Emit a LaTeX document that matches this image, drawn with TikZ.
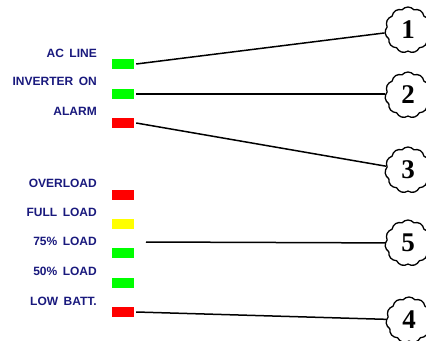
\documentclass[tikz,border=0pt]{standalone}
\usepackage{fontspec}
\setmainfont{Liberation Serif}
\setsansfont{Liberation Sans}
\usetikzlibrary{shapes.symbols}
\definecolor{pNavy}{RGB}{25,25,125}
\definecolor{pGreen}{RGB}{0,255,0}
\definecolor{pRed}{RGB}{255,0,0}
\definecolor{pYellow}{RGB}{255,255,0}
\newcommand{\panelfont}{\sffamily\bfseries\fontsize{12bp}{12bp}\selectfont\spaceskip 5.5bp\relax}
\tikzset{
    led/.style={rectangle, inner sep=0pt, minimum width=22bp, minimum height=10bp},
    lbl/.style={anchor=east, inner sep=0pt, text=pNavy, font=\panelfont},
    callout/.style={cloud, cloud puffs=11, cloud puff arc=100, aspect=1, draw, line width=1.3bp,
        minimum width=46bp, minimum height=46bp, inner sep=0pt, fill=white,
        font=\rmfamily\bfseries\fontsize{27bp}{27bp}\selectfont},
    wire/.style={line width=1.5bp}
}

\begin{document}
\begin{tikzpicture}[x=1bp,y=-1bp]
\useasboundingbox (0,0) rectangle (426,341);
% front panel labels
\node[lbl] (tAc)   at (97, 53) {AC LINE};
\node[lbl] (tInv)  at (97, 81) {INVERTER ON};
\node[lbl] (tAlm)  at (97,111) {ALARM};
\node[lbl] (tOvl)  at (97,183) {OVERLOAD};
\node[lbl] (tFull) at (97,212) {FULL LOAD};
\node[lbl] (tSev)  at (97,241) {75\% LOAD};
\node[lbl] (tFif)  at (97,271) {50\% LOAD};
\node[lbl] (tBat)  at (97,301) {LOW BATT.};
% indicator lamps
\node[led,fill=pGreen]  (ac)   at (123, 64) {};
\node[led,fill=pGreen]  (inv)  at (123, 94) {};
\node[led,fill=pRed]    (alm)  at (123,123) {};
\node[led,fill=pRed]    (ovl)  at (123,195) {};
\node[led,fill=pYellow] (full) at (123,224) {};
\node[led,fill=pGreen]  (sev)  at (123,253) {};
\node[led,fill=pGreen]  (fif)  at (123,283) {};
\node[led,fill=pRed]    (bat)  at (123,312) {};
\coordinate (bar) at (146,242);
% callouts
\node[callout] (c1) at (408, 30) {1};
\node[callout] (c2) at (408, 95) {2};
\node[callout] (c3) at (408,170) {3};
\node[callout] (c5) at (408,243) {5};
\node[callout] (c4) at (409,320) {4};
\draw[wire] ([xshift=2bp]ac.east) -- (c1);
\draw[wire] ([xshift=2bp]inv.east) -- (inv.east -| c2.west);
\draw[wire] ([xshift=2bp]alm.east) -- (c3);
\draw[wire] (bar) -- (c5);
\draw[wire] ([xshift=2bp]bat.east) -- (c4);
\end{tikzpicture}
\end{document}
